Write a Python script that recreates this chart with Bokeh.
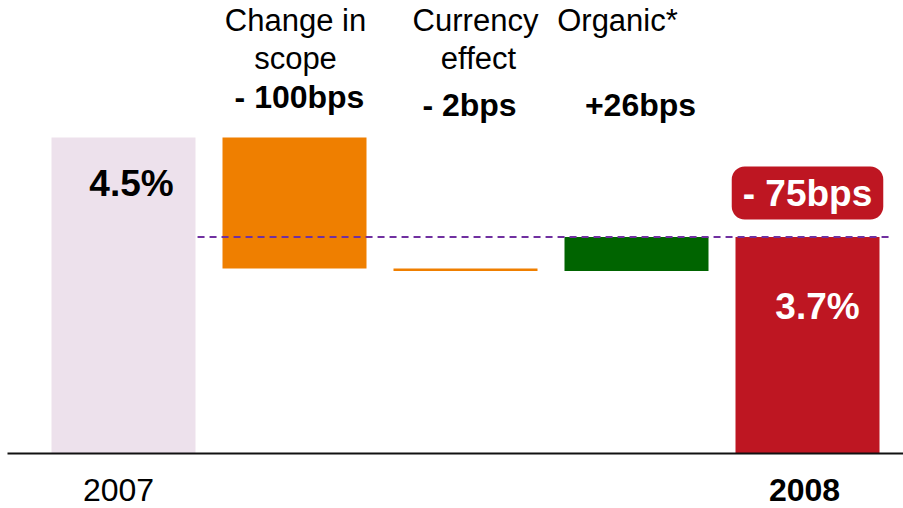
from bokeh.plotting import figure
from bokeh.models import Range1d
from bokeh.core.properties import value
from bokeh.embed import file_html
from bokeh.resources import INLINE

# Operating margin bridge, 2007 -> 2008 (percent / basis points)
years = ["2007", "2008"]
start_margin = 4.5
step_names = [["Change in", "scope"], ["Currency", "effect"], ["Organic*"]]
step_bps = [-100, -2, 26]
step_labels = ["- 100bps", "- 2bps", "+26bps"]
start_label = "4.5%"
end_label = "3.7%"
total_label = "- 75bps"

# colours
C_START = "#EDE1EC"
C_DOWN = "#EF7F00"
C_UP = "#006400"
C_END = "#BE1622"
C_REF = "#7030A0"
FONT = value("Liberation Sans")

# waterfall geometry from the values
end_margin = start_margin + sum(step_bps) / 100.0
levels = [start_margin]
for b in step_bps:
    levels.append(levels[-1] + b / 100.0)

W, H = 903, 508
STEP_PX = 171.0           # distance between category centres
FIRST_PX = 123.0          # centre of the first bar
BAR_W = 144.0 / STEP_PX
FLOOR = 2.086             # value where the broken axis sits
Y_LO, Y_HI = 1.666, 5.547
BL = -12                  # baseline correction for alphabetic text offsets

x_start = -FIRST_PX / STEP_PX
x_end = (W - FIRST_PX) / STEP_PX

p = figure(width=W, height=H, x_range=Range1d(x_start, x_end),
           y_range=Range1d(Y_LO, Y_HI), output_backend="svg",
           toolbar_location=None, x_axis_type=None, y_axis_type=None,
           min_border=0, outline_line_color=None)
p.grid.visible = False
p.background_fill_color = "white"
p.border_fill_color = "white"

n = len(step_bps)
xs = list(range(n + 2))
bottoms = [FLOOR] + [min(levels[i], levels[i + 1]) for i in range(n)] + [FLOOR]
tops = [start_margin] + [max(levels[i], levels[i + 1]) for i in range(n)] + [end_margin]
colors = [C_START] + [C_UP if b > 0 else C_DOWN for b in step_bps] + [C_END]

p.vbar(x=xs, bottom=bottoms, top=tops, width=BAR_W, fill_color=colors,
       line_color=None)

# dashed reference at the closing level
p.segment(x0=[0 + BAR_W / 2 + 0.012], x1=[n + 1 + BAR_W / 2 + 0.053],
          y0=[end_margin], y1=[end_margin], line_color=C_REF,
          line_width=2, line_dash="7 5")

# floor line
p.segment(x0=[x_start + 7 / STEP_PX], x1=[x_end], y0=[FLOOR], y1=[FLOOR],
          line_color="#111111", line_width=2)

# step headings
head_x = [1, 2, 3]
p.text(x=head_x, y=[Y_HI] * 3, text=[s[0] for s in step_names],
       x_offset=[1, 10, -19], y_offset=[32 + BL] * 3,
       text_align="center", text_baseline="alphabetic",
       text_font=FONT, text_font_size="31px", text_color="black")
p.text(x=[1, 2], y=[Y_HI] * 2, text=[s[1] for s in step_names[:2]],
       x_offset=[1, 13], y_offset=[70 + BL] * 2,
       text_align="center", text_baseline="alphabetic",
       text_font=FONT, text_font_size="31px", text_color="black")
p.text(x=head_x, y=[Y_HI] * 3, text=step_labels,
       x_offset=[5, 4, 4], y_offset=[108 + BL, 116 + BL, 116 + BL],
       text_align="center", text_baseline="alphabetic",
       text_font=FONT, text_font_size="32px", text_font_style="bold",
       text_color="black")

# opening / closing values
p.text(x=[0], y=[start_margin], text=[start_label], x_offset=8, y_offset=58 + BL,
       text_align="center", text_baseline="alphabetic", text_font=FONT,
       text_font_size="37px", text_font_style="bold", text_color="black")
p.text(x=[n + 1], y=[end_margin], text=[end_label], x_offset=10, y_offset=81 + BL,
       text_align="center", text_baseline="alphabetic", text_font=FONT,
       text_font_size="37px", text_font_style="bold", text_color="white")

# total change badge
p.text(x=[n + 1], y=[end_margin], text=[total_label], x_offset=0, y_offset=-44,
       text_align="center", text_baseline="middle", text_font=FONT,
       text_font_size="37px", text_font_style="bold", text_color="white",
       background_fill_color=C_END, border_radius=13, padding=(11, 6))

# year labels under the floor
p.text(x=[0], y=[FLOOR], text=[years[0]], x_offset=-5, y_offset=48 + BL,
       text_align="center", text_baseline="alphabetic", text_font=FONT,
       text_font_size="32px", text_color="black")
p.text(x=[n + 1], y=[FLOOR], text=[years[1]], x_offset=-3, y_offset=48 + BL,
       text_align="center", text_baseline="alphabetic", text_font=FONT,
       text_font_size="32px", text_font_style="bold", text_color="black")

open("out.html", "w").write(file_html(p, INLINE))
